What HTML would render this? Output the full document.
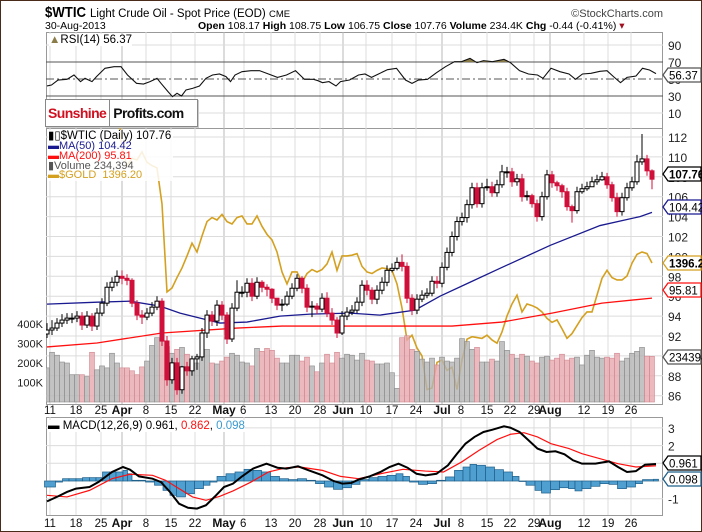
<!DOCTYPE html>
<html><head><meta charset="utf-8"><style>
html,body{margin:0;padding:0;background:#fff;}
svg{display:block;font-family:"Liberation Sans","DejaVu Sans",sans-serif;}
</style></head><body>
<svg id="c" width="702" height="532" viewBox="0 0 702 532" xmlns="http://www.w3.org/2000/svg">
<rect x="0.5" y="0.5" width="701" height="531" fill="#fff" stroke="#4a2a18"/>
<g>
<text x="45" y="17" font-size="15" font-weight="bold" textLength="41" lengthAdjust="spacingAndGlyphs">$WTIC</text>
<text x="90" y="17" font-size="11.5">Light Crude Oil - Spot Price (EOD) <tspan font-size="9.5">CME</tspan></text>
<text x="663" y="17" font-size="11" fill="#444" text-anchor="end">©StockCharts.com</text>
<text x="45" y="29" font-size="10.5">30-Aug-2013</text>
<text x="198" y="29" font-size="10.5"><tspan font-weight="bold">Open</tspan> 108.17 <tspan font-weight="bold">High</tspan> 108.75 <tspan font-weight="bold">Low</tspan> 106.75 <tspan font-weight="bold">Close</tspan> 107.76 <tspan font-weight="bold">Volume</tspan> 234.4K <tspan font-weight="bold">Chg</tspan> -0.44 (-0.41%) <tspan fill="#a01020">▾</tspan></text>
</g>
<g id="grid"></g>
<g id="rsi"></g>
<g id="price"></g>
<g id="macd"></g>
<g id="axes"></g>
</svg>
<script>
// ---------- data ----------
const closes=[92.6,92.8,93.3,93.6,93.8,93.8,94.0,93.1,94.0,93.0,94.3,95.3,96.9,97.4,98.0,97.8,97.6,95.3,94.1,93.9,94.3,94.9,95.5,91.5,87.6,89.3,86.6,88.9,88.5,89.7,89.9,92.3,94.1,93.5,95.1,94.1,91.7,94.8,96.4,96.4,97.3,96.0,97.4,96.9,96.7,95.8,95.1,95.2,96.0,96.8,97.8,96.8,94.9,95.0,94.7,95.8,94.3,93.6,92.3,94.0,94.4,94.6,95.4,97.1,96.6,95.7,96.6,97.4,98.6,98.8,99.4,99.0,95.8,94.6,95.7,96.1,96.3,97.5,97.3,98.9,100.4,102.0,103.5,103.9,105.2,106.9,105.3,106.9,107.0,106.4,107.2,108.5,108.5,107.5,107.8,106.0,106.1,105.3,104.0,106.0,108.2,107.4,107.1,106.5,105.0,104.6,106.5,106.8,107.0,107.5,107.7,108.0,107.2,105.9,104.5,105.9,106.9,107.5,109.5,109.8,108.6,107.76];
const opens=[92.2,92.6,92.8,93.3,93.6,93.8,93.8,94.0,93.1,94.0,93.0,94.3,95.3,96.9,97.4,98.0,97.8,97.6,95.3,94.1,93.9,94.3,94.9,95.5,91.5,87.6,89.3,86.6,88.9,88.5,89.7,89.9,92.3,94.1,93.5,95.1,94.1,91.7,94.8,96.4,96.4,97.3,96.0,97.4,96.9,96.7,95.8,95.1,95.2,96.0,96.8,97.8,96.8,94.9,95.0,94.7,95.8,94.3,93.6,92.3,94.0,94.4,94.6,95.4,97.1,96.6,95.7,96.6,97.4,98.6,98.8,99.4,99.0,95.8,94.6,95.7,96.1,96.3,97.5,97.3,98.9,100.4,102.0,103.5,103.9,105.2,106.9,105.3,106.9,107.0,106.4,107.2,108.5,108.5,107.5,107.8,106.0,106.1,105.3,104.0,106.0,108.2,107.4,107.1,106.5,105.0,104.6,106.5,106.8,107.0,107.5,107.7,108.0,107.2,105.9,104.5,105.9,106.9,107.5,109.5,109.8,108.6];
const highs=[93.3,93.6,93.8,94.2,94.3,94.3,94.5,94.4,94.5,94.3,94.8,95.8,97.4,97.9,98.6,98.6,98.2,97.8,95.6,94.6,94.8,95.4,96.0,95.8,92.0,89.8,89.8,89.0,89.4,90.0,90.2,92.8,94.6,94.5,95.6,95.5,94.4,95.3,97.6,97.0,97.8,97.8,97.9,97.6,97.2,96.8,95.8,95.7,96.5,97.3,98.2,98.0,97.2,95.5,95.3,96.3,96.4,94.8,93.9,94.5,94.9,95.1,95.9,97.6,97.6,96.9,97.1,97.9,99.1,99.3,99.9,100.2,99.4,96.2,96.2,96.6,96.8,98.0,98.0,99.4,100.9,102.5,104.0,104.4,105.7,107.4,107.4,107.4,107.8,107.5,107.7,109.2,109.0,108.9,108.3,108.3,106.6,106.3,105.7,106.5,108.7,108.6,107.6,107.3,106.9,105.2,107.0,107.3,107.5,108.0,108.2,108.5,108.4,107.5,106.4,106.4,107.4,108.0,110.2,112.3,110.2,108.75];
const lows=[91.8,92.1,92.5,92.9,93.2,93.3,93.4,92.6,92.8,92.5,92.6,94.0,95.0,96.5,97.0,97.2,97.1,94.9,93.6,93.2,93.6,94.0,94.6,91.0,87.0,87.2,86.1,86.2,88.0,88.0,88.6,89.5,91.8,93.0,93.0,93.6,91.2,91.4,94.5,95.9,95.9,95.5,95.7,96.4,96.0,95.3,94.6,94.5,95.0,95.7,96.5,96.3,94.4,93.9,94.2,94.4,93.9,93.1,91.8,92.1,93.6,94.1,94.3,95.0,96.1,95.2,95.2,96.2,97.0,98.4,98.6,98.5,95.3,94.1,94.2,95.4,95.8,96.0,96.8,96.9,98.6,100.0,101.6,103.1,103.4,104.8,104.9,104.9,106.6,106.0,106.0,106.9,107.9,107.0,107.1,105.5,105.6,104.9,103.5,103.6,105.7,106.9,106.6,105.9,104.6,103.4,104.3,106.3,106.6,107.0,107.2,107.6,106.8,105.5,104.0,104.1,105.6,106.6,107.2,109.2,108.1,106.75];
const volumes=[175,255,240,205,200,140,140,140,130,255,165,185,175,250,200,175,175,160,140,180,210,290,330,310,285,250,270,280,245,195,200,230,270,200,195,210,230,250,240,205,200,185,275,260,275,265,225,200,200,240,240,210,230,185,155,200,245,200,255,225,245,240,215,250,215,210,195,195,200,150,70,330,340,270,260,220,205,225,190,230,210,205,225,325,310,270,280,205,205,220,210,310,265,245,225,245,235,210,200,230,235,215,225,245,215,225,230,190,240,265,230,225,230,225,250,210,225,250,260,280,235,234];
const ma50Day=[0,10,16.6,22.6,26.6,30.6,34.6,40,46.6,52.6,60.6,66.6,73.6,78.6,84.6,90.6,100.6,110.6,118.6,121];
const ma50Val=[95.2,95.4,95.5,95.0,94.3,93.8,93.3,93.4,94.0,94.2,94.3,94.1,94.6,96.0,97.4,98.8,101.1,103.1,104.0,104.42];
const ma200Day=[0,10,23,38,47,81,91,101,111,121];
const ma200Val=[90.9,91.3,92.3,92.8,93.0,93.0,93.4,94.3,95.3,95.81];
const goldDay=[14,15,16,17,18,19,20,21,22,23,24,25,26,27,28,29,30,31,32,33,34,35,36,37,38,39,40,41,42,43,44,45,46,47,48,49,50,51,52,53,54,55,56,57,58,59,60,61,62,63,64,65,66,67,68,69,70,71,72,73,74,75,76,77,78,79,80,81,82,83,84,85,86,87,88,89,90,91,92,93,94,95,96,97,98,99,100,101,102,103,104,105,106,107,108,109,110,111,112,113,114,115,116,117,118,119,120,121];
const goldVal=[1600,1540,1518,1527,1525,1535,1522,1518,1515,1470,1360,1365,1378,1390,1405,1421,1410,1430,1448,1453,1450,1457,1448,1445,1453,1455,1445,1445,1455,1442,1432,1425,1410,1385,1370,1385,1385,1372,1383,1388,1385,1388,1395,1410,1387,1405,1405,1406,1408,1392,1385,1383,1387,1390,1389,1387,1370,1340,1300,1306,1290,1280,1238,1240,1272,1275,1262,1266,1238,1275,1301,1304,1303,1302,1306,1300,1296,1310,1330,1345,1356,1335,1345,1343,1340,1335,1327,1322,1325,1314,1302,1308,1318,1328,1335,1335,1356,1377,1387,1378,1375,1375,1380,1396,1407,1410,1408,1396.2];
const rsiDay=[0,0.9,2.2,4,5.4,6.7,7.6,9,9.9,11.6,13.4,14.8,16.1,17.9,19.3,20.6,22,22.8,24.2,25.1,26,26.9,27.8,29.1,30.5,31.8,33.1,34.5,35.8,36.7,37.6,39,40.8,42.5,44.3,46.1,47.9,49.7,51.5,53.3,54.2,55.1,56.4,57.8,58.7,60.5,62.3,63.6,64.9,66.3,68.1,69.9,71.7,73,74.3,76.1,77.9,79.7,81.5,82.9,84.6,86,87.3,89.1,91.4,92.7,94.5,96.3,98.1,99.2,100.8,102.6,104.4,105.7,107.1,108.8,110.6,112,113.3,114.7,116,117.8,119.1,120.5,121.8];
const rsiVal=[41.8,42.9,48.8,49.6,54.7,46.9,50.8,46.9,52.8,62.6,64.5,64.5,54.7,44.9,44.1,46.9,50.8,44.9,35.1,29.2,33.2,30,37.1,39,41.8,50.8,54.7,55.9,52.8,46.9,54.7,58.6,59.8,59.8,55.9,51.9,54.7,59.8,49.6,49.6,48,45.7,46.9,41.8,46.9,48.8,54.7,55.9,51.9,55.9,61,62.6,48.8,44.9,48.8,49.6,57.4,64.5,70.4,70.4,74.3,69.2,71.6,70.4,73.1,69.2,59.8,55.9,54.7,50.8,62.6,58.6,55.9,49.6,55.9,56.7,59,59.8,52.8,45.7,51.9,53.5,62.6,60.6,56.37];
const macdDay=[0,2.2,4,5.8,8.5,10.3,13,15.2,16.6,18.4,21.1,22.8,24.6,26.4,28.2,30,31.8,33.6,35.4,37.2,39,41.2,43.9,46.1,47.9,50.2,52.4,55.1,57.3,59.1,60.9,62.3,64.5,66.7,68.5,70.3,72.1,73.9,75.7,77.9,80.2,82,83.7,85.5,87.3,89.1,91.4,92.7,94.5,96.3,98.1,99.9,101.7,103.5,105.2,107,109.7,112.4,114.2,116,117.8,119.6,121.8];
const macdVal=[-1.15,-0.87,-0.62,-0.43,-0.34,-0.06,0.51,0.79,0.64,0.26,0.13,-0.06,-0.62,-1.28,-1.51,-1.56,-1.37,-0.87,-0.34,-0.15,0.26,0.70,0.98,0.75,0.70,0.83,0.60,0.32,0,-0.15,-0.11,0.08,0.26,0.51,0.79,0.98,0.75,0.41,0.32,0.41,0.89,1.54,2.11,2.49,2.77,2.90,3.09,3.01,2.77,2.30,1.83,1.64,1.68,1.51,1.17,0.98,0.98,1.11,0.79,0.51,0.56,0.92,0.961];
const sigDay=[0,4,8.5,13,16.6,21.1,23.7,26.4,29.1,31.8,34.5,37.2,40.8,44.3,47.9,50.6,55.1,58.7,62.3,66.7,71.2,75.7,79.3,82.9,86.4,90,92.7,95.4,98.1,100.8,104.4,107,110.6,114.2,117.8,121.8];
const sigVal=[-0.81,-0.90,-0.53,0.13,0.38,0.32,0.04,-0.43,-0.90,-1.09,-0.87,-0.56,-0.06,0.51,0.75,0.79,0.60,0.26,0.13,0.41,0.66,0.56,0.51,1.07,1.73,2.34,2.64,2.73,2.49,2.11,1.83,1.54,1.26,0.98,0.79,0.862];
const histDay=[0,2.2,3.6,4.9,6.3,7.6,9,10.3,11.6,13,14.3,15.7,16.6,17.5,18.8,20.2,22,23.7,25.1,26.4,28.2,30,31.8,33.1,34.5,36.3,38.1,39.9,41.7,43.4,45.2,47,48.8,50.6,52.4,54.2,56,57.8,59.6,61.4,63.1,64.9,66.7,68.5,70.3,71.7,73,74.8,76.6,78.4,80.2,82,83.7,85.1,86.4,88.2,90,91.8,93.6,94.9,96.3,98.1,99.4,101.2,103,104.8,106.1,107.5,109.3,111.1,112.9,114.6,116.4,118.2,119.6,121.8];
const histVal=[-0.34,-0.06,0.13,0.13,0.13,0.19,0.19,0.19,0.51,0.51,0.51,0.60,0.41,0.04,0.04,-0.06,-0.24,-0.53,-0.81,-0.90,-0.72,-0.43,-0.24,-0.06,0.26,0.41,0.51,0.66,0.60,0.51,0.26,0.13,0.08,0.13,0.04,-0.15,-0.34,-0.47,-0.38,-0.19,0.08,0.19,0.26,0.32,0.41,0.26,-0.06,-0.19,-0.15,0.04,0.23,0.60,0.79,0.94,0.89,0.79,0.64,0.51,0.26,0,-0.24,-0.53,-0.68,-0.49,-0.38,-0.43,-0.56,-0.43,-0.30,-0.15,-0.19,-0.43,-0.34,-0.15,0.08,0.098];
const dateLabels=["11","18","25","Apr","8","15","22","May","6","13","20","28","Jun","10","17","24","Jul","8","15","22","29","Aug","12","19","26"];
const dateDays=[0.6,5.8,10.8,15,19.8,24.8,29.6,35.4,39.4,44.8,49.6,54.6,59.2,63.8,69,73.8,79,82.8,88,92.6,97.4,100.6,107.4,112.2,116.8];
const priceTicks=[112,110,108,106,104,102,100,98,96,94,92,90,88,86];
const volTicks=[100,200,300,400];
const rsiTicks=[90,70,50,30,10];
const macdTicks=[3,2,1,0,-1];

// ---------- scales ----------
const L=46,R=663;
const X=d=>47+d*5;
const PY=p=>137+(112-p)*9.95;
const VY=v=>402-v*0.195;
const GY=g=>263-(g-1396.2)/1.25;
const RY=v=>62+(70-v)*0.85;
const MY=v=>481-v*17.7;
const NS="http://www.w3.org/2000/svg";
function mk(tag,attrs,parent){const e=document.createElementNS(NS,tag);for(const k in attrs)e.setAttribute(k,attrs[k]);parent.appendChild(e);return e;}
const grid=document.getElementById('grid'),rsiG=document.getElementById('rsi'),priceG=document.getElementById('price'),macdG=document.getElementById('macd'),axes=document.getElementById('axes');
const defs=mk('defs',{},document.getElementById('c'));
const cp=mk('clipPath',{id:'pclip'},defs);mk('rect',{x:L,y:128,width:R-L,height:276},cp);
const cr=mk('clipPath',{id:'rclip'},defs);mk('rect',{x:L,y:32,width:R-L,height:30},cr);

// panels
const panels=[[32,128,'rsi-panel'],[128,404,'price-panel'],[417,515,'macd-panel']];
panels.forEach(p=>{
  const r=mk('rect',{x:L+0.5,y:p[0]+0.5,width:R-L-1,height:p[1]-p[0],fill:'#fff',stroke:'#999'},grid);
  
  
});
dateDays.forEach((d,i)=>{
  const month=isNaN(+dateLabels[i]);
  panels.forEach(p=>{
    const l=mk('line',{x1:X(d),x2:X(d),y1:p[0],y2:p[1],stroke:month?'#b8b8b8':'#dcdcdc','stroke-width':1},grid);
    
    
  });
});
priceTicks.forEach(t=>{
  const l=mk('line',{x1:L,x2:R,y1:PY(t),y2:PY(t),stroke:'#dcdcdc'},grid);
  
  
  const tx=mk('text',{x:668,y:PY(t)+5,'font-size':12,fill:'#222'},axes);tx.textContent=t;
  
  
});
volTicks.forEach(t=>{
  const tx=mk('text',{x:43,y:VY(t)+4,'font-size':11,'text-anchor':'end',fill:'#222'},axes);tx.textContent=t+'K';
  
  
});
rsiTicks.forEach(t=>{
  const dark=(t===70||t===30);
  const l=mk('line',{x1:L,x2:R,y1:RY(t),y2:RY(t),stroke:dark?'#555':(t===50?'#555':'#dcdcdc'),'stroke-dasharray':t===50?'8,3,2,3':'none'},grid);
  
  
  const tx=mk('text',{x:668,y:RY(t)+5,'font-size':12,fill:'#222'},axes);tx.textContent=t;
  
  
});
macdTicks.forEach(t=>{
  const l=mk('line',{x1:L,x2:R,y1:MY(t),y2:MY(t),stroke:'#dcdcdc'},grid);
  
  
  const tx=mk('text',{x:668,y:MY(t)+5,'font-size':12,fill:'#222'},axes);tx.textContent=t;
  
  
});
[414,527].forEach(yy=>dateLabels.forEach((s,i)=>{
  const month=isNaN(+s);
  const tx=mk('text',{x:X(dateDays[i]),y:yy,'font-size':month?12:11.5,'font-weight':month?'bold':'normal','text-anchor':s==='6'?'start':'middle',fill:'#111'},axes);
  if(s==='6')tx.setAttribute('x',X(dateDays[i])-4);
  tx.textContent=s;
  
  
}));

// ---------- RSI ----------
const rpts=rsiDay.map((d,i)=>X(d)+','+RY(rsiVal[i])).join(' ');
const rf=mk('polygon',{points:X(rsiDay[0])+','+RY(70)+' '+rpts+' '+X(rsiDay[rsiDay.length-1])+','+RY(70),fill:'#8b7d4a','clip-path':'url(#rclip)'},rsiG);


const rl=mk('polyline',{points:rpts,fill:'none',stroke:'#111','stroke-width':1.1},rsiG);



// ---------- price panel ----------
const pg=mk('g',{'clip-path':'url(#pclip)'},priceG);
const gl=mk('polyline',{points:goldDay.map((d,i)=>X(d)+','+GY(goldVal[i])).join(' '),fill:'none',stroke:'#d4a020','stroke-width':1.6},pg);


volumes.forEach((v,i)=>{
  if(i>=closes.length)return;
  const up=closes[i]>=opens[i];
  const b=mk('rect',{x:X(i)-2.5,y:VY(v),width:5,height:402-VY(v),fill:up?'#b4b4b4':'#e6a8ae','fill-opacity':0.8,stroke:up?'#8a8a8a':'#d08890','stroke-width':0.6},pg);
  
  
});
const m2=mk('polyline',{points:ma200Day.map((d,i)=>X(d)+','+PY(ma200Val[i])).join(' '),fill:'none',stroke:'#ff1010','stroke-width':1.3},pg);


const m5=mk('polyline',{points:ma50Day.map((d,i)=>X(d)+','+PY(ma50Val[i])).join(' '),fill:'none',stroke:'#1a1a90','stroke-width':1.3},pg);


closes.forEach((c,i)=>{
  const o=opens[i],up=c>=o,x=X(i);
  const w=mk('line',{x1:x,x2:x,y1:PY(highs[i]),y2:PY(lows[i]),stroke:up?'#000':'#d0103a','stroke-width':1},pg);
  
  
  const top=PY(Math.max(o,c)),h=Math.max(1,PY(Math.min(o,c))-top);
  const b=mk('rect',{x:x-2,y:top,width:4,height:h,fill:up?'#fff':'#d0103a',stroke:up?'#000':'#d0103a','stroke-width':1},pg);
  
  
});

// ---------- MACD ----------
histDay.forEach((d,i)=>{
  const nx=i<histDay.length-1?X(histDay[i+1]):X(d)+5;
  const v=histVal[i],y0=MY(0),y1=MY(v);
  const b=mk('rect',{x:X(d)-2.5,y:Math.min(y0,y1),width:nx-X(d),height:Math.max(0.5,Math.abs(y1-y0)),fill:'#4f9fd0',stroke:'#1f5f8a','stroke-width':0.7},macdG);
  
  
});
const sl=mk('polyline',{points:sigDay.map((d,i)=>X(d)+','+MY(sigVal[i])).join(' '),fill:'none',stroke:'#ff1010','stroke-width':1.2},macdG);


const ml=mk('polyline',{points:macdDay.map((d,i)=>X(d)+','+MY(macdVal[i])).join(' '),fill:'none',stroke:'#000','stroke-width':2},macdG);



// ---------- value tags ----------
function tag(y,text,col,bold,name){
  const g=mk('g',{},axes);
  
  
  mk('polygon',{points:`${R},${y} ${R+5},${y-7} 701,${y-7} 701,${y+7} ${R+5},${y+7}`,fill:'#fff',stroke:col,'stroke-width':1.3},g);
  const t=mk('text',{x:R+6,y:y+4.5,'font-size':11.5,'font-weight':bold?'bold':'normal',fill:'#000'},g);t.textContent=text;
}
tag(174,'107.76','#000',true,'last-price-tag');
tag(207,'104.42','#1a1a90',false,'ma50-tag');
tag(263,'1396.20','#d4a020',true,'gold-tag');
tag(290,'95.81','#ff1010',false,'ma200-tag');
tag(357,'234394','#555',false,'volume-tag');
tag(75,'56.37','#555',false,'rsi-tag');
tag(463,'0.961','#000',false,'macd-tag');
tag(479,'0.098','#1f5f8a',false,'histogram-tag');
</script>
<div style="position:absolute;left:0;top:0;width:702px;height:532px;pointer-events:none;font-family:'Liberation Sans','DejaVu Sans',sans-serif;">
 <div style="position:absolute;left:49px;top:34px;font-size:11.5px;background:#fff;"><span style="color:#8b7d4a">▲</span>RSI(14) 56.37</div>
 <div style="position:absolute;left:45px;top:99px;width:151px;height:26px;background:#fff;border:1px solid #888;box-shadow:1px 1px 0 #ccc;font-weight:bold;font-size:14px;line-height:26px;white-space:nowrap;overflow:hidden;letter-spacing:-0.6px;">
  <span style="color:#d01020;padding-left:2px;">Sunshine</span><span style="display:inline-block;width:1px;height:26px;background:#888;vertical-align:top;margin:0 3px;"></span><span style="color:#111">Profits.com</span>
 </div>
 <div style="position:absolute;left:48px;top:130px;font-size:11px;line-height:9.8px;background:rgba(255,255,255,0.85);padding-right:2px;white-space:nowrap;">
  <div style="font-size:11.5px;line-height:12px;">▮▯$WTIC (Daily) 107.76</div>
  <div style="color:#1a1a90">▬MA(50) 104.42</div>
  <div style="color:#ff1010">▬MA(200) 95.81</div>
  <div style="color:#555">▮Volume 234,394</div>
  <div style="color:#d4a020">▬$GOLD&nbsp;&nbsp;1396.20</div>
 </div>
 <div style="position:absolute;left:48px;top:420px;font-size:11.5px;background:#fff;">▬ MACD(12,26,9) 0.961, <span style="color:#ff1010">0.862</span>, <span style="color:#3a9ad0">0.098</span></div>
</div>
</body></html>
